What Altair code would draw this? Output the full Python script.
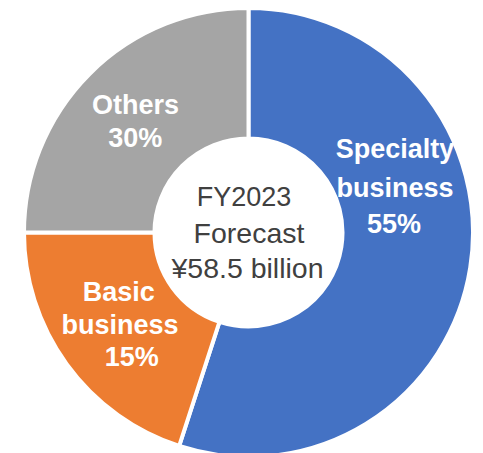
import altair as alt
import pandas as pd

# Slice data (angular shares as drawn) and their label texts
categories = ["Specialty business", "Basic business", "Others"]
shares = [55, 20, 25]
colors = ["#4472C4", "#ED7D31", "#A5A5A5"]
slice_order = [0, 1, 2]

label_lines = [
    ["Specialty", "business", "55%"],
    ["Basic", "business", "15%"],
    ["Others", "30%"],
]
center_lines = ["FY2023", "Forecast", "¥58.5 billion"]

df = pd.DataFrame({"category": categories, "share": shares, "ord": slice_order})

W, H = 467, 445
CX, CY = 240.5, 224.5

arcs = alt.Chart(df).mark_arc(
    innerRadius=94, outerRadius=224.5, stroke="white", strokeWidth=4
).encode(
    theta=alt.Theta("share:Q", stack=True),
    order=alt.Order("ord:Q"),
    color=alt.Color("category:N", scale=alt.Scale(domain=categories, range=colors), legend=None),
    x=alt.value(CX),
    y=alt.value(CY),
)

# layout of label lines (svg coords: center x, baseline y)
label_layout = [
    [(387, 150.3), (387, 188.7), (386, 225.3)],
    [(110.8, 293), (112, 326.3), (123.7, 357.7)],
    [(127.5, 106.3), (127.3, 138.7)],
]
center_layout = [(236, 197.7), (241, 234.7), (239.5, 270.3)]
center_sizes = [27, 28.5, 28.5]

layers = [arcs]
base_txt = alt.Chart(pd.DataFrame({"k": [0]}))
for lines, pos in zip(label_lines, label_layout):
    for t, (x, y) in zip(lines, pos):
        layers.append(
            base_txt.mark_text(
                text=t, font="Liberation Sans", fontSize=27, fontWeight="bold",
                color="white", align="center", baseline="alphabetic"
            ).encode(x=alt.value(x), y=alt.value(y))
        )
for t, (x, y), fs in zip(center_lines, center_layout, center_sizes):
    layers.append(
        base_txt.mark_text(
            text=t, font="Liberation Sans", fontSize=fs, color="#404040",
            align="center", baseline="alphabetic"
        ).encode(x=alt.value(x), y=alt.value(y))
    )

chart = alt.layer(*layers).properties(
    width=W, height=H, padding=0, autosize=alt.AutoSizeParams(type="none")
).configure_view(stroke=None)

chart.save("out.html", embed_options={"renderer": "svg", "actions": False})
